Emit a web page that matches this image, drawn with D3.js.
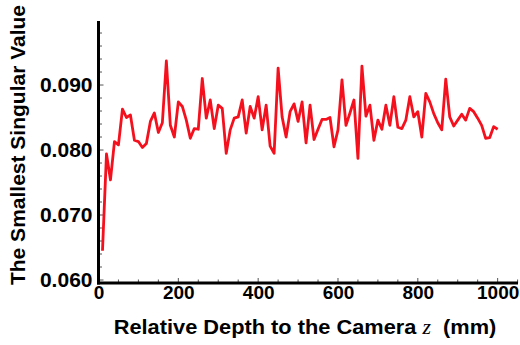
<!DOCTYPE html>
<html>
<head>
<meta charset="utf-8">
<script src="https://cdn.jsdelivr.net/npm/d3@7"></script>
<style>
  html, body { margin: 0; padding: 0; background: #fff; }
  svg { display: block; }
  text { font-family: "Liberation Sans", Arial, sans-serif; font-weight: bold; fill: #000; }
</style>
</head>
<body>
<svg id="chart" width="520" height="345"></svg>
<script>
// Relative depth z (mm), one sample every 10 mm
const depths = d3.range(10, 1001, 10);

// Smallest singular value measured at each depth
const singularValues = [
  0.0645, 0.0794, 0.0754, 0.0813, 0.0808, 0.0863, 0.0850, 0.0854, 0.0815, 0.0813,
  0.0804, 0.0810, 0.0844, 0.0857, 0.0827, 0.0842, 0.0937, 0.0838, 0.0820, 0.0874,
  0.0867, 0.0846, 0.0818, 0.0833, 0.0832, 0.0910, 0.0849, 0.0877, 0.0833, 0.0869,
  0.0864, 0.0795, 0.0831, 0.0849, 0.0851, 0.0877, 0.0826, 0.0867, 0.0849, 0.0882,
  0.0831, 0.0869, 0.0806, 0.0795, 0.0926, 0.0851, 0.0820, 0.0859, 0.0871, 0.0844,
  0.0874, 0.0811, 0.0869, 0.0816, 0.0832, 0.0847, 0.0847, 0.0850, 0.0805, 0.0831,
  0.0908, 0.0838, 0.0857, 0.0877, 0.0787, 0.0929, 0.0852, 0.0869, 0.0815, 0.0846,
  0.0832, 0.0869, 0.0838, 0.0882, 0.0835, 0.0833, 0.0846, 0.0882, 0.0851, 0.0859,
  0.0820, 0.0887, 0.0874, 0.0856, 0.0842, 0.0831, 0.0909, 0.0851, 0.0837, 0.0846,
  0.0855, 0.0846, 0.0864, 0.0859, 0.0849, 0.0838, 0.0818, 0.0819, 0.0836, 0.0832
];

const xTickValues = [0, 200, 400, 600, 800, 1000];
const yTickValues = [0.060, 0.070, 0.080, 0.090];
const xTitle = "Relative Depth to the Camera";
const xTitleVar = "z";
const xTitleUnit = "(mm)";
const yTitle = "The Smallest Singular Value";

const svg = d3.select("#chart");

const plotLeft = 98.5, plotRight = 518, plotTop = 21, plotBottom = 283;

const x = d3.scaleLinear().domain([0, 1051]).range([plotLeft, plotRight]);
const y = d3.scaleLinear().domain([0.05954, 0.09985]).range([plotBottom, plotTop]);

// Minor ticks drawn on the inside of the frame
const xMinor = d3.range(50, 1051, 50);
const yMinor = d3.range(0.060, 0.0999, 0.002);

svg.append("g")
  .selectAll("line")
  .data(xMinor)
  .join("line")
  .attr("x1", d => x(d)).attr("x2", d => x(d))
  .attr("y1", plotBottom).attr("y2", d => plotBottom - (d % 200 === 0 ? 5 : 3.5))
  .attr("stroke", "#555").attr("stroke-width", 1);

svg.append("g")
  .selectAll("line")
  .data(yMinor)
  .join("line")
  .attr("y1", d => y(d)).attr("y2", d => y(d))
  .attr("x1", plotLeft).attr("x2", (d, i) => plotLeft + (i % 5 === 0 ? 5 : 3.5))
  .attr("stroke", "#555").attr("stroke-width", 1);

// Data line
const line = d3.line()
  .x((d, i) => x(depths[i]))
  .y(d => y(d));

svg.append("path")
  .datum(singularValues)
  .attr("d", line)
  .attr("fill", "none")
  .attr("stroke", "#f5101e")
  .attr("stroke-width", 2.8)
  .attr("stroke-linejoin", "round");

// Axes
const xAxis = d3.axisBottom(x).tickValues(xTickValues).tickSize(0).tickPadding(4)
  .tickFormat(d3.format("d"));
const gx = svg.append("g").attr("transform", `translate(0,${plotBottom})`).call(xAxis);
gx.select(".domain").attr("stroke", "#000").attr("stroke-width", 3)
  .attr("d", `M${plotLeft - 1.5},0H${plotRight}`);
gx.selectAll("text").attr("font-size", 19).attr("font-family", "Liberation Sans, Arial, sans-serif")
  .attr("font-weight", "bold").attr("fill", "#000").attr("dy", "0.64em");

const yAxis = d3.axisLeft(y).tickValues(yTickValues).tickSize(0).tickPadding(6)
  .tickFormat(d3.format(".3f"));
const gy = svg.append("g").attr("transform", `translate(${plotLeft},0)`).call(yAxis);
gy.select(".domain").attr("stroke", "#000").attr("stroke-width", 3)
  .attr("d", `M0,${plotTop}V${plotBottom + 1.5}`);
gy.selectAll("text").attr("font-size", 21).attr("font-family", "Liberation Sans, Arial, sans-serif")
  .attr("font-weight", "bold").attr("fill", "#000");

// Axis titles
const xt = svg.append("text")
  .attr("transform", "translate(305,334) scale(1.09,1)")
  .attr("text-anchor", "middle")
  .attr("font-size", 20);
xt.append("tspan").text(xTitle + " ");
xt.append("tspan").text(xTitleVar)
  .attr("font-family", "Liberation Serif, Times New Roman, serif")
  .attr("font-style", "italic").attr("font-weight", "normal");
xt.append("tspan").text("\u00a0 " + xTitleUnit);

svg.append("text")
  .attr("transform", "translate(25,145) rotate(-90)")
  .attr("text-anchor", "middle")
  .attr("font-size", 21)
  .text(yTitle);
</script>
</body>
</html>
